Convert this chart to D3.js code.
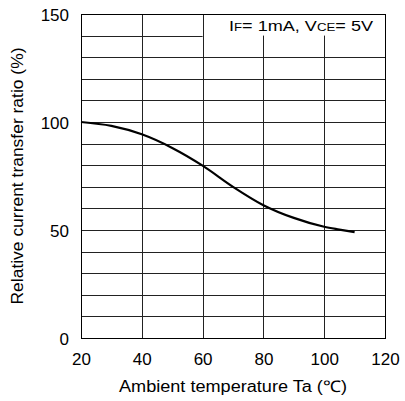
<!DOCTYPE html>
<html><head><meta charset="utf-8">
<script src="https://cdn.jsdelivr.net/npm/d3@7/dist/d3.min.js"></script>
<style>body{margin:0;background:#fff}svg{display:block}text{font-family:"Liberation Sans",Arial,sans-serif;fill:#000}</style>
</head><body>
<svg id="c" width="405" height="401"></svg>
<script>
const temps = [20, 30, 40, 50, 60, 70, 80, 90, 100, 105, 110];
const ratio = [100, 98.2, 94.3, 88, 79.8, 70, 61.5, 55.6, 51.5, 50.2, 49];
const xTicks = [20, 40, 60, 80, 100, 120];
const yTicks = [0, 50, 100, 150];
const yGrid = d3.range(0, 151, 10);

const svg = d3.select("#c");
const L = 81, R = 385, T = 14, B = 338;
const x = d3.scaleLinear().domain([20, 120]).range([L, R]);
const y = d3.scaleLinear().domain([0, 150]).range([B, T]);
const g = svg.append("g");
const legX0 = 60;

yGrid.forEach(v => {
  const x2 = v === 140 ? x(legX0) : R;
  g.append("line").attr("x1", L).attr("x2", x2).attr("y1", Math.round(y(v)) + 0.5).attr("y2", Math.round(y(v)) + 0.5)
    .attr("stroke", "#222").attr("stroke-width", 1);
});
xTicks.forEach(v => {
  const y1 = (v > legX0 && v < 120) ? y(140) : T;
  g.append("line").attr("x1", Math.round(x(v)) + 0.5).attr("x2", Math.round(x(v)) + 0.5).attr("y1", y1).attr("y2", B)
    .attr("stroke", "#222").attr("stroke-width", 1);
});
g.append("rect").attr("x", L + 0.5).attr("y", T + 0.5).attr("width", R - L).attr("height", B - T)
  .attr("fill", "none").attr("stroke", "#000");

const line = d3.line().x((d, i) => x(temps[i])).y(d => y(d)).curve(d3.curveMonotoneX);
g.append("path").datum(ratio).attr("d", line).attr("fill", "none").attr("stroke", "#000").attr("stroke-width", 2.2);

const xa = d3.axisBottom(x).tickValues(xTicks).tickSize(0).tickPadding(0);
const xg = svg.append("g").attr("transform", `translate(0,${B})`).call(xa);
xg.select(".domain").remove();
xg.selectAll("text").attr("font-size", 17).attr("dy", null).attr("y", 27).attr("fill", "#000")
  .style("font-family", '"Liberation Sans",Arial,sans-serif');
const ya = d3.axisLeft(y).tickValues(yTicks).tickSize(0).tickPadding(0);
const yg = svg.append("g").attr("transform", `translate(69,0)`).call(ya);
yg.select(".domain").remove();
yg.selectAll("text").attr("font-size", 17).attr("dy", "0.36em").attr("x", 0).attr("fill", "#000")
  .style("font-family", '"Liberation Sans",Arial,sans-serif');

svg.append("text").attr("x", 119).attr("y", 392).attr("font-size", 16)
  .attr("textLength", 228).attr("lengthAdjust", "spacingAndGlyphs")
  .text("Ambient temperature Ta (℃)");
svg.append("text").attr("transform", `translate(23,${(T + B) / 2}) rotate(-90)`).attr("text-anchor", "middle")
  .attr("font-size", 16).attr("textLength", 257).attr("lengthAdjust", "spacingAndGlyphs")
  .text("Relative current transfer ratio (%)");

const lt = svg.append("text").attr("x", 229).attr("y", 31).attr("font-size", 15)
  .attr("textLength", 144).attr("lengthAdjust", "spacingAndGlyphs");
lt.append("tspan").text("I");
lt.append("tspan").attr("font-size", 11).text("F");
lt.append("tspan").text("= 1mA, V");
lt.append("tspan").attr("font-size", 11).text("CE");
lt.append("tspan").text("= 5V");
</script>
</body></html>
